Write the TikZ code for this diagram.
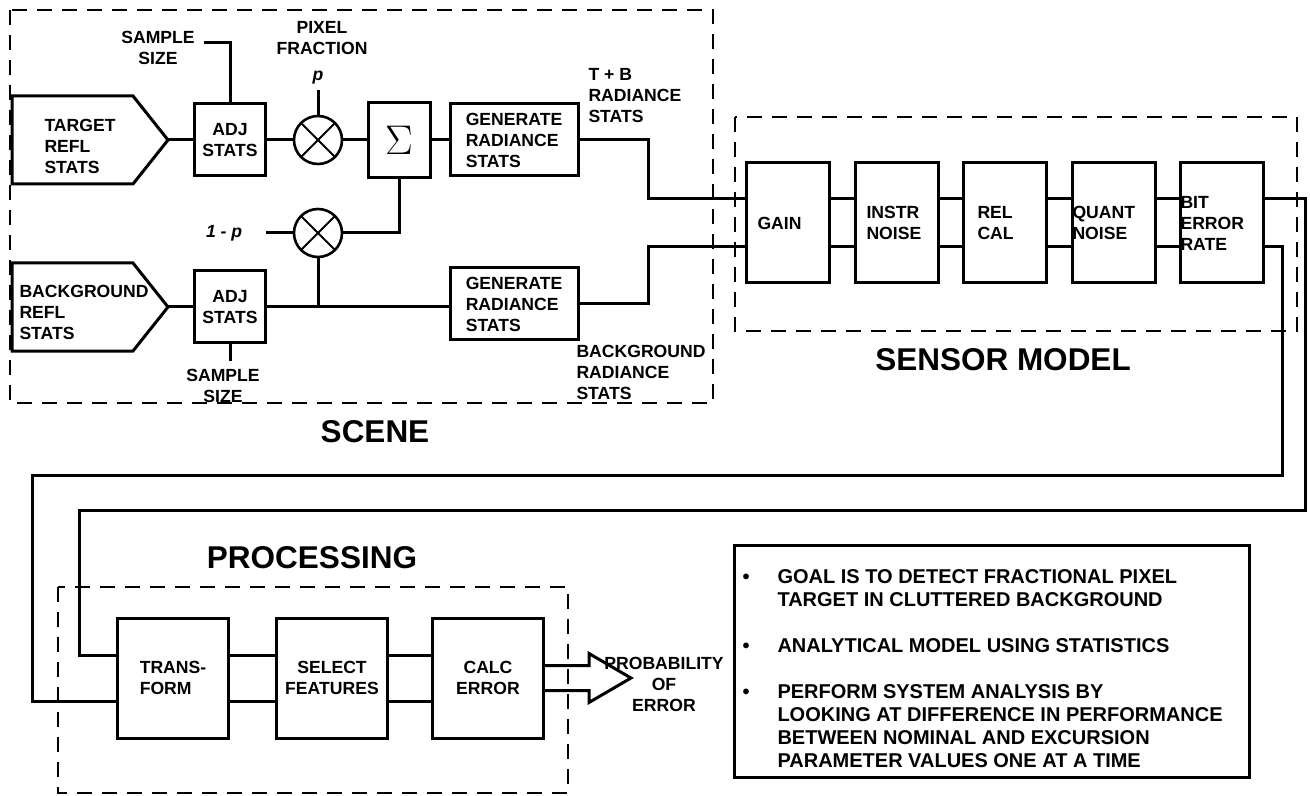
\documentclass[tikz,border=0pt]{standalone}
\usepackage{fontspec}
\setmainfont{Liberation Sans}
\usepackage{tikz}
\usetikzlibrary{positioning}
\newcommand{\lblfont}{\bfseries\fontsize{8.8}{10.5}\selectfont}
\newcommand{\headfont}{\bfseries\fontsize{15.75}{18}\selectfont}
\tikzset{
  labeltext/.style={font=\lblfont, inner sep=0pt, align=center},
  heading/.style={font=\headfont, inner sep=0pt},
  frame/.style={line width=1.4pt, dash pattern=on 7.5pt off 5pt},
  adjbox/.style={draw, labeltext, minimum width=35.5pt, minimum height=36pt},
  genbox/.style={draw, labeltext, align=left, minimum width=64pt, minimum height=36pt},
  sensbox/.style={draw, labeltext, align=left, minimum width=41.5pt, minimum height=60pt},
  procbox/.style={draw, labeltext, minimum width=55.5pt, minimum height=60pt},
  multnode/.style={circle, draw, line width=1.3pt, minimum size=24pt, inner sep=0pt,
    path picture={\draw[line width=1pt]
      (path picture bounding box.south west) -- (path picture bounding box.north east)
      (path picture bounding box.north west) -- (path picture bounding box.south east);}}
}

\begin{document}
\begin{tikzpicture}[x=0.5pt, y=-0.5pt, line width=1.5pt]
  \useasboundingbox (0,0) rectangle (1310,796);
  % dashed frames
  \draw[frame] (10,10) rectangle (713,403);
  \draw[frame] (735,117) rectangle (1297,331);
  \draw[frame] (58,587) rectangle (568,793);
  \node[heading] (scene) at (375,432) {SCENE};
  \node[heading] (sensor) at (1003,360) {SENSOR MODEL};
  \node[heading] (processing) at (312,558) {PROCESSING};

  % scene inputs
  \draw (12,96) -- (133,96) -- (168,140) -- (133,184) -- (12,184) -- cycle;
  \coordinate (tgt) at (168,140);
  \node[labeltext, align=left, anchor=west] (tgttxt) at (43,146) {TARGET\\REFL\\STATS};
  \draw (12,263) -- (133,263) -- (168,307) -- (133,351) -- (12,351) -- cycle;
  \coordinate (bkg) at (168,307);
  \node[labeltext, align=left, anchor=west] (bkgtxt) at (18,312) {BACKGROUND\\REFL\\STATS};

  \node[adjbox] (adjt) at (230,140) {ADJ\\STATS};
  \node[adjbox] (adjb) at (230,307) {ADJ\\STATS};
  \node[multnode] (mt) at (318,140) {};
  \node[multnode] (mb) at (318,233) {};
  \node[draw, inner sep=0pt, minimum width=31pt, minimum height=37.5pt] (sum) at (399,140) {\fontsize{22}{22}\selectfont$\Sigma$};
  \node[genbox] (gent) at (514,140) {GENERATE\\RADIANCE\\STATS};
  \node[genbox] (genb) at (514,304) {GENERATE\\RADIANCE\\STATS};

  \node[labeltext] (sst) at (158,48) {SAMPLE\\SIZE};
  \coordinate (sstend) at (204,43);
  \node[labeltext] (ssb) at (223,386) {SAMPLE\\SIZE};
  \node[labeltext] (pixfrac) at (322,38) {PIXEL\\FRACTION};
  \node[labeltext, align=left, anchor=west] (tbrad) at (587,96) {T + B\\RADIANCE\\STATS};
  \node[labeltext, align=left, anchor=west] (bkgrad) at (575,372) {BACKGROUND\\RADIANCE\\STATS};

  \draw (tgt) -- (adjt.west);
  \draw (bkg) -- (adjb.west);
  \draw (adjt.north) |- (sstend);
  \draw (adjb.south) -- ++(0,16);
  \draw (adjt.east) -- (mt.west);
  \draw (mt.east) -- (sum.west);
  \draw (sum.east) -- (gent.west);
  \draw (mt.north) -- ++(0,-25) node[labeltext, font=\lblfont\itshape, above=2pt] (plbl) {p};
  \draw (mb.west) -- ++(-27,0) node[labeltext, font=\lblfont\itshape, left=11pt] (qlbl) {1 - p};
  \draw (mb.east) -| (sum.south);
  \draw (adjb.east) -- (adjb.east -| genb.west);
  \draw (mb.south) -- (mb.south |- adjb.east);

  % sensor model
  \node[sensbox, text width=30.5pt] (gain) at (788,223) {GAIN};
  \node[sensbox, text width=30.5pt] (instr) at (897,223) {INSTR\\NOISE};
  \node[sensbox, text width=27.5pt] (rel) at (1005,223) {REL\\CAL};
  \node[sensbox, text width=41.5pt] (quant) at (1114,223) {QUANT\\NOISE};
  \node[sensbox, text width=41.5pt] (bit) at (1222,223) {BIT\\ERROR\\RATE};
  \draw (gent.east) -- ++(69,0) |- ([yshift=12pt]gain.west);
  \draw (genb.east) -- ++(69,0) |- ([yshift=-12pt]gain.west);
  \draw ([yshift=12pt]gain.east) -- ([yshift=12pt]instr.west);
  \draw ([yshift=-12pt]gain.east) -- ([yshift=-12pt]instr.west);
  \draw ([yshift=12pt]instr.east) -- ([yshift=12pt]rel.west);
  \draw ([yshift=-12pt]instr.east) -- ([yshift=-12pt]rel.west);
  \draw ([yshift=12pt]rel.east) -- ([yshift=12pt]quant.west);
  \draw ([yshift=-12pt]rel.east) -- ([yshift=-12pt]quant.west);
  \draw ([yshift=12pt]quant.east) -- ([yshift=12pt]bit.west);
  \draw ([yshift=-12pt]quant.east) -- ([yshift=-12pt]bit.west);

  % processing
  \node[procbox, align=left] (trans) at (173,678) {TRANS-\\FORM};
  \node[procbox] (sel) at (332,678) {SELECT\\FEATURES};
  \node[procbox] (calc) at (488,678) {CALC\\ERROR};
  \coordinate (rto) at (1305,510);
  \coordinate (lti) at (79,510);
  \coordinate (rti) at (1282,475);
  \coordinate (lto) at (32,475);
  \draw ([yshift=12pt]bit.east) -| (rto) -- (lti) |- ([yshift=11.5pt]trans.west);
  \draw ([yshift=-12pt]bit.east) -| (rti) -- (lto) |- ([yshift=-11.5pt]trans.west);
  \draw ([yshift=11.5pt]trans.east) -- ([yshift=11.5pt]sel.west);
  \draw ([yshift=-11.5pt]trans.east) -- ([yshift=-11.5pt]sel.west);
  \draw ([yshift=11.5pt]sel.east) -- ([yshift=11.5pt]calc.west);
  \draw ([yshift=-11.5pt]sel.east) -- ([yshift=-11.5pt]calc.west);
  \draw[line join=miter] ([yshift=6.25pt]calc.east) -- ++(44,0) -- ++(0,-12) -- ++(42,24.5)
    -- ++(-42,24.5) -- ++(0,-12) -- ++(-44,0);
  \node[labeltext] (poe) at (664,684) {PROBABILITY\\OF\\ERROR};

  % summary
  \node[draw, minimum width=257.5pt, minimum height=116pt] (goal) at (991.5,661) {};
  \node[anchor=north west, inner sep=0pt, font=\bfseries\fontsize{10}{11.5}\selectfont] (goaltxt) at (741,566) {%
    \begin{tabular}{@{}l@{\hspace{14pt}}l@{}}
      \textbullet & GOAL IS TO DETECT FRACTIONAL PIXEL\\
      & TARGET IN CLUTTERED BACKGROUND\\[11.5pt]
      \textbullet & ANALYTICAL MODEL USING STATISTICS\\[11.5pt]
      \textbullet & PERFORM SYSTEM ANALYSIS BY\\
      & LOOKING AT DIFFERENCE IN PERFORMANCE\\
      & BETWEEN NOMINAL AND EXCURSION\\
      & PARAMETER VALUES ONE AT A TIME
    \end{tabular}};
\end{tikzpicture}
\end{document}
